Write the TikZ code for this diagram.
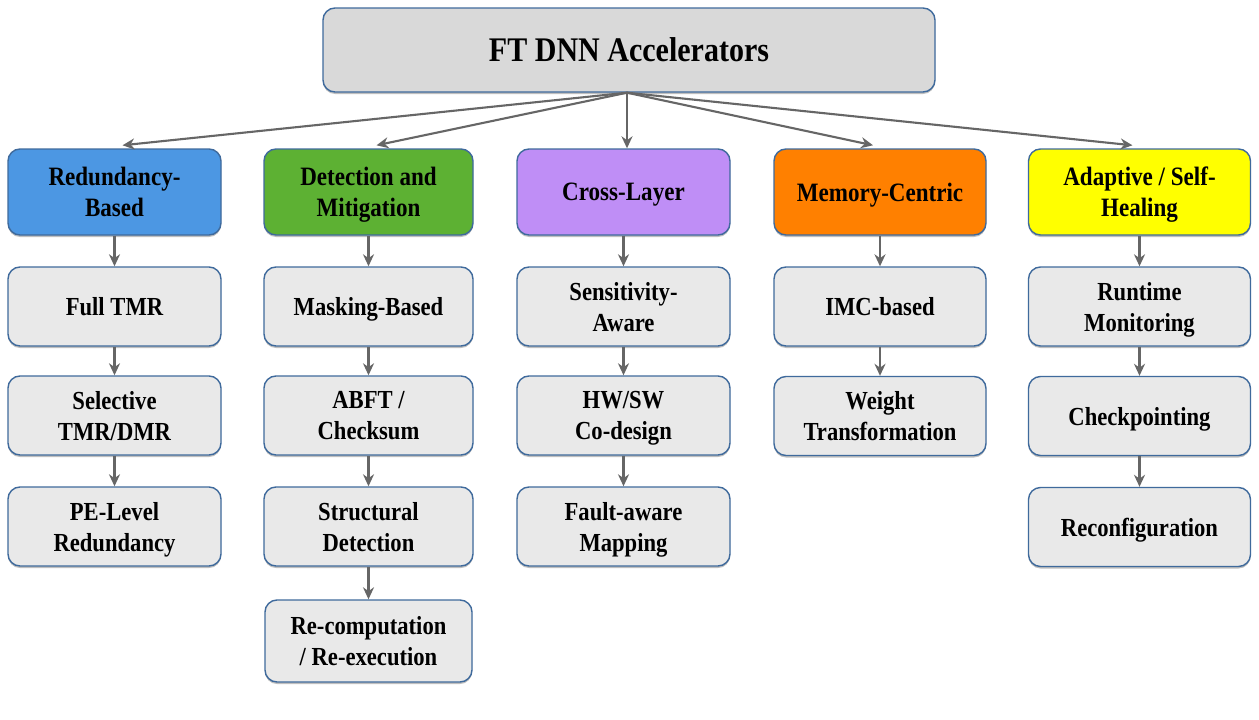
\documentclass[tikz,border=0pt]{standalone}
\usepackage{fontspec}
\setmainfont{Liberation Serif}[FakeStretch=0.87]
\usetikzlibrary{shadows,arrows.meta}
\definecolor{bordercol}{HTML}{3F6A9C}
\definecolor{boxgrey}{HTML}{E9E9E9}
\definecolor{titlegrey}{HTML}{D9D9D9}
\definecolor{arrowgrey}{HTML}{666666}
\definecolor{cblue}{HTML}{4C97E3}
\definecolor{cgreen}{HTML}{5DB133}
\definecolor{cpurple}{HTML}{BF8EF6}
\definecolor{corange}{HTML}{FF8000}
\definecolor{cyellow}{HTML}{FFFF00}
\tikzset{
  box/.style={draw=bordercol, line width=1.4pt, rounded corners=12pt, align=center,
    inner sep=0pt, text depth=0pt, font=\bfseries\fontsize{26}{31}\selectfont,
    drop shadow={shadow xshift=0pt, shadow yshift=-2pt, opacity=0.25, fill=black}},
  lvl/.style={box, fill=boxgrey},
  hdr/.style={box, fill=#1, font=\bfseries\fontsize{26.5}{31}\selectfont},
  arr/.style={-{Stealth[length=12pt,width=11pt]}, line width=2.1pt, draw=arrowgrey}
}
\begin{document}
\begin{tikzpicture}[x=1pt,y=-1pt]
\fill[white] (0,0) rectangle (1259,720);
\useasboundingbox (0,0) rectangle (1259,720);
% title
\node[box, fill=titlegrey, minimum width=612pt, minimum height=84pt,
  font=\bfseries\fontsize{34.5}{38}\selectfont] (top) at (629,50) {FT DNN Accelerators};
% headers
\node[hdr=cblue, minimum width=213pt, minimum height=86pt] (h1) at (114.5,192) {Redundancy-\\Based};
\node[hdr=cgreen, minimum width=209pt, minimum height=86pt] (h2) at (368.5,192) {Detection and\\Mitigation};
\node[hdr=cpurple, minimum width=213pt, minimum height=86pt] (h3) at (623.5,192) {Cross-Layer};
\node[hdr=corange, minimum width=212pt, minimum height=86pt] (h4) at (880,192) {Memory-Centric};
\node[hdr=cyellow, minimum width=222pt, minimum height=86pt] (h5) at (1139.5,192) {Adaptive / Self-\\Healing};
% column 1
\node[lvl, minimum width=213pt, minimum height=79pt] (a1) at (114.5,306.5) {Full TMR};
\node[lvl, minimum width=213pt, minimum height=79pt] (a2) at (114.5,415.5) {Selective\\TMR/DMR};
\node[lvl, minimum width=213pt, minimum height=79pt] (a3) at (114.5,526.5) {PE-Level\\Redundancy};
% column 2
\node[lvl, minimum width=209pt, minimum height=79pt] (b1) at (368.5,306.5) {Masking-Based};
\node[lvl, minimum width=209pt, minimum height=79pt] (b2) at (368.5,415.5) {ABFT /\\Checksum};
\node[lvl, minimum width=209pt, minimum height=79pt] (b3) at (368.5,526.5) {Structural\\Detection};
\node[lvl, minimum width=207pt, minimum height=82pt] (b4) at (368.5,641) {Re-computation\\/ Re-execution};
% column 3
\node[lvl, minimum width=213pt, minimum height=79pt] (c1) at (623.5,306.5) {Sensitivity-\\Aware};
\node[lvl, minimum width=213pt, minimum height=79pt] (c2) at (623.5,415.5) {HW/SW\\Co-design};
\node[lvl, minimum width=213pt, minimum height=79pt] (c3) at (623.5,526.5) {Fault-aware\\Mapping};
% column 4
\node[lvl, minimum width=212pt, minimum height=79pt] (d1) at (880,306.5) {IMC-based};
\node[lvl, minimum width=212pt, minimum height=79pt] (d2) at (880,416) {Weight\\Transformation};
% column 5
\node[lvl, minimum width=222pt, minimum height=79pt] (e1) at (1139.5,306.5) {Runtime\\Monitoring};
\node[lvl, minimum width=222pt, minimum height=79pt] (e2) at (1139.5,416) {Checkpointing};
\node[lvl, minimum width=222pt, minimum height=79pt] (e3) at (1139.5,527) {Reconfiguration};
% arrows from title
\coordinate (src) at ([xshift=-2pt]top.south);
\draw[arr] (src) -- ([xshift=8pt,yshift=3pt]h1.north);
\draw[arr] (src) -- ([xshift=8pt,yshift=3pt]h2.north);
\draw[arr] (src) -- ([xshift=3.5pt]h3.north);
\draw[arr] (src) -- ([xshift=-7pt,yshift=3pt]h4.north);
\draw[arr] (src) -- ([xshift=-7pt,yshift=3pt]h5.north);
% vertical arrows
\draw[arr] (h1) -- (a1);
\draw[arr] (a1) -- (a2);
\draw[arr] (a2) -- (a3);
\draw[arr] (h2) -- (b1);
\draw[arr] (b1) -- (b2);
\draw[arr] (b2) -- (b3);
\draw[arr] (b3) -- (b4);
\draw[arr] (h3) -- (c1);
\draw[arr] (c1) -- (c2);
\draw[arr] (c2) -- (c3);
\draw[arr] (h4) -- (d1);
\draw[arr] (d1) -- (d2);
\draw[arr] (h5) -- (e1);
\draw[arr] (e1) -- (e2);
\draw[arr] (e2) -- (e3);
\end{tikzpicture}
\end{document}
